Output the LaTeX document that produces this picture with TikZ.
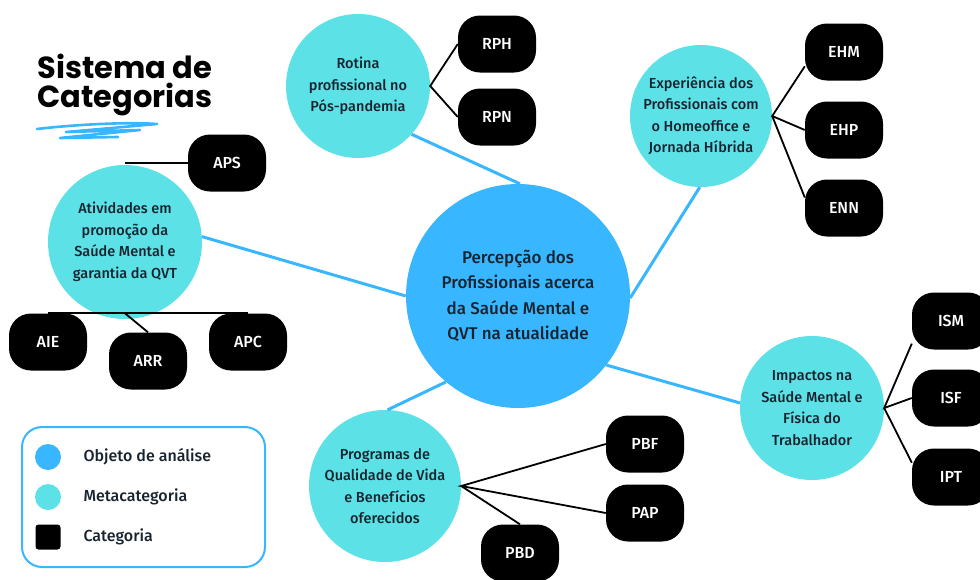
\documentclass[tikz,border=0pt]{standalone}
\usepackage{fontspec}
\IfFontExistsTF{Fira Sans Medium}
  {\setmainfont{Fira Sans Medium}[BoldFont=Fira Sans Bold]}
  {\setmainfont{Fira Sans}}
\newfontfamily\titlefont{Poppins}
\usetikzlibrary{calc}
\definecolor{SCBlue}{HTML}{38B6FF}
\definecolor{SCTeal}{HTML}{5CE1E6}
\definecolor{SCInk}{HTML}{17242F}
\tikzset{
  objeto/.style={circle,fill=SCBlue,text=SCInk,minimum size=224pt,inner sep=0pt,
                 align=center,font=\fontsize{17}{25.5}\selectfont},
  meta/.style={circle,fill=SCTeal,text=SCInk,inner sep=0pt,align=center,
               font=\fontsize{14.5}{21.5}\selectfont},
  cat/.style={fill=black,rounded corners=22pt,minimum width=78pt,minimum height=57pt,
              text=white,font=\fontsize{16}{19}\selectfont},
  link/.style={SCBlue,line width=3pt},
  branch/.style={black,line width=1.8pt},
  scribble/.style={SCBlue,line width=2.6pt,line cap=round,line join=round},
  legendbox/.style={draw=SCBlue,line width=2pt,rounded corners=20pt,fill=white},
  legtext/.style={text=SCInk,font=\fontsize{16}{19}\selectfont,anchor=west},
  heading/.style={text=black,font=\titlefont\fontsize{30.5}{30}\selectfont\bfseries,anchor=base west},
}

\begin{document}
\begin{tikzpicture}[x=1pt,y=-1pt]
    \useasboundingbox (0,0) rectangle (980,579);

    % title
    \node[heading] (tit1) at (34,78) {Sistema de};
    \node[heading] (tit2) at (34,107) {Categorias};
    \draw[scribble] (37,129) .. controls (80,124) and (130,122) .. (157,124)
      -- (66,132) -- (140,130) -- (60,138) -- (118,137);

    % object of analysis
    \node[objeto] (obj) at (518,296)
      {Percepção dos\\Profissionais acerca\\da Saúde Mental e\\QVT na atualidade};

    % metacategories
    \node[meta,minimum size=144pt] (rotina) at (358,86)
      {Rotina\\profissional no\\Pós-pandemia};
    \node[meta,minimum size=142pt] (exper) at (701,116)
      {Experiência dos\\Profissionais com\\o Homeoffice e\\Jornada Híbrida};
    \node[meta,minimum size=154pt] (ativ) at (125,242)
      {Atividades em\\promoção da\\Saúde Mental e\\garantia da QVT};
    \node[meta,minimum size=152pt] (prog) at (385,486)
      {Programas de\\Qualidade de Vida\\e Benefícios\\oferecidos};
    \node[meta,minimum size=144pt] (impac) at (812,408)
      {Impactos na\\Saúde Mental e\\Física do\\Trabalhador};

    % categories
    \node[cat] (rph) at (497,44) {RPH};
    \node[cat] (rpn) at (497,117) {RPN};
    \node[cat] (ehm) at (844,52) {EHM};
    \node[cat] (ehp) at (844,130) {EHP};
    \node[cat] (enn) at (844,208) {ENN};
    \node[cat] (aps) at (227,163) {APS};
    \node[cat] (aie) at (48,342) {AIE};
    \node[cat] (arr) at (148,361) {ARR};
    \node[cat] (apc) at (248,342) {APC};
    \node[cat] (pbf) at (645,444) {PBF};
    \node[cat] (pap) at (645,513) {PAP};
    \node[cat] (pbd) at (520,553) {PBD};
    \node[cat] (ism) at (951,321) {ISM};
    \node[cat] (isf) at (951,398) {ISF};
    \node[cat] (ipt) at (951,477) {IPT};

    % blue links
    \draw[link] (rotina.-42) -- (obj.89);
    \draw[link] (exper.-91) -- (obj.-1);
    \draw[link] (ativ.4) -- (obj.180);
    \draw[link] (prog.88) -- (obj.230);
    \draw[link] (impac.176) -- (obj.-38);

    % black branches
    \draw[branch] (rph.west) -- (rotina.east) -- (rpn.west);
    \draw[branch] (ehm.200) -- (exper.east) -- (ehp.west);
    \draw[branch] (exper.east) -- (enn.165);
    \draw[branch] (ism.210) -- (impac.east) -- (isf.west);
    \draw[branch] (impac.east) -- (ipt.160);
    \draw[branch] (pbf.west) -- (prog.east) -- (pap.west);
    \draw[branch] (prog.east) -- (pbd.north);
    \draw[branch] (aps.west) -- (aps.west -| ativ.north);
    \draw[branch] (aie.north) -- (apc.north);
    \draw[branch] (ativ.south |- aie.north) -- (arr.north);

    % legend
    \node[legendbox,minimum width=243pt,minimum height=140pt] (leg) at (143.5,497) {};
    \node[circle,fill=SCBlue,minimum size=26pt,inner sep=0pt] (kobj) at (48,457) {};
    \node[circle,fill=SCTeal,minimum size=26pt,inner sep=0pt] (kmeta) at (48,497) {};
    \node[fill=black,rounded corners=3pt,minimum size=25pt,inner sep=0pt] (kcat) at (48,537) {};
    \node[legtext] (tobj) at (80,457) {Objeto de análise};
    \node[legtext] (tmeta) at (80,497) {Metacategoria};
    \node[legtext] (tcat) at (80,537) {Categoria};
\end{tikzpicture}
\end{document}
